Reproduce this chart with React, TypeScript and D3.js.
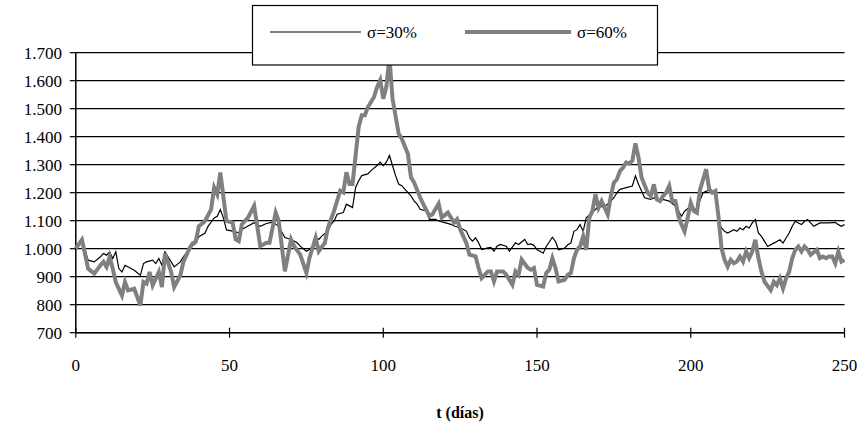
import React from "react";
import * as d3 from "d3";

// σ = 30% series (day, value)
const days30 = [0,2,4,6,8,9,10,11,12,13,14,15,16,18,19,21,22,23,25,26,27,28,29,30,32,34,35,37,39,40,42,43,45,46,47,48,49,51,53,54,56,58,60,62,64,66,68,70,72,73,75,76,77,78,79,80,82,83,84,85,87,88,89,90,91,92,93,95,96,98,99,100,101,102,103,104,105,106,107,109,110,111,112,114,115,117,118,120,122,123,125,127,128,129,130,131,132,134,135,136,137,138,140,141,143,144,146,147,148,149,150,151,152,153,155,156,157,159,160,161,162,163,164,165,166,168,170,172,174,175,176,177,179,181,182,183,184,185,187,188,190,191,193,195,196,197,198,200,201,202,204,206,208,209,210,211,212,214,215,216,217,218,219,220,221,222,223,224,225,227,228,229,230,231,232,233,234,235,236,237,238,239,240,242,243,245,247,248,249,250];
const sigma30 = [1000,1032,959,953,971,983,977,989,965,989,929,917,941,929,923,905,947,953,959,947,965,941,989,971,935,953,971,1002,1019,1043,1055,1080,1110,1116,1140,1110,1067,1063,1057,1069,1081,1093,1080,1090,1095,1080,1040,1033,1021,1009,991,997,1009,1039,1033,1045,1063,1087,1099,1123,1129,1159,1153,1147,1219,1243,1261,1267,1279,1297,1309,1297,1309,1333,1297,1261,1231,1225,1213,1189,1171,1159,1141,1135,1105,1105,1099,1093,1087,1081,1075,1063,1039,1027,1039,1021,997,1003,1005,991,1009,1015,1009,991,1021,1015,1033,1015,1017,1012,996,991,984,1008,1041,1026,996,1002,1014,1020,1062,1068,1086,1062,1110,1130,1150,1150,1170,1182,1200,1212,1218,1224,1260,1230,1206,1182,1176,1182,1170,1176,1170,1152,1134,1116,1134,1152,1134,1146,1200,1210,1200,1098,1074,1062,1056,1068,1062,1074,1068,1080,1074,1092,1104,1056,1044,1026,1008,1020,1026,1032,1020,1038,1056,1080,1098,1092,1086,1098,1104,1092,1080,1092,1092,1092,1094,1086,1080,1086];

// σ = 60% series (day, value)
const days60 = [0,2,4,6,8,9,10,11,12,13,15,16,17,19,21,22,23,24,25,27,28,29,31,32,34,35,37,38,39,40,42,44,45,46,47,49,51,52,53,54,56,58,60,62,63,65,66,68,70,71,73,75,76,78,79,81,82,84,86,87,88,89,90,92,93,94,95,97,98,99,100,101,102,103,105,106,108,109,110,112,113,115,116,118,119,121,123,124,125,127,128,130,131,132,134,135,136,137,139,140,142,143,144,145,147,148,149,150,152,153,154,155,156,157,159,160,161,162,163,164,165,166,167,168,169,170,171,173,174,175,176,177,178,179,180,181,182,183,184,186,187,188,189,190,191,192,193,194,195,196,197,198,199,200,201,202,203,205,206,207,208,209,210,211,212,213,214,215,216,217,218,219,220,221,222,223,224,226,227,228,229,230,231,232,233,234,235,236,237,238,239,241,242,243,244,245,246,247,248,249,250];
const sigma60 = [1000,1032,929,911,941,953,935,971,929,881,833,881,851,857,797,881,875,917,869,917,863,983,917,863,905,953,1002,1019,1025,1080,1098,1140,1218,1194,1272,1099,1093,1033,1027,1087,1111,1153,1009,1021,1021,1129,1099,919,1033,1009,979,913,967,1039,991,1021,1075,1135,1207,1201,1273,1231,1231,1435,1477,1477,1506,1542,1578,1602,1536,1578,1685,1536,1411,1393,1339,1255,1237,1183,1159,1117,1123,1161,1111,1129,1093,1105,1069,1021,979,973,931,895,919,919,883,919,919,907,871,919,907,961,931,925,931,871,865,913,925,966,931,883,889,907,913,966,996,1008,1044,996,1110,1134,1194,1146,1170,1122,1188,1236,1248,1278,1290,1308,1304,1314,1376,1326,1254,1200,1188,1230,1176,1170,1188,1200,1224,1170,1170,1116,1086,1062,1110,1164,1134,1128,1210,1284,1212,1200,1206,1116,1002,960,936,960,948,954,972,954,990,966,990,1032,966,918,882,852,882,870,894,858,894,918,966,996,1008,990,1008,996,978,996,966,972,966,972,972,948,990,954,960];

const yTicks = [700,800,900,1000,1100,1200,1300,1400,1500,1600,1700];
const xTicks = [0,50,100,150,200,250];
const seriesNames = ["σ=30%", "σ=60%"];

const fmt = (v: number) => (v >= 1000 ? `${Math.floor(v / 1000)}.${String(v % 1000).padStart(3, "0")}` : String(v));

export default function App() {
  const W = 863, H = 423;
  const x = d3.scaleLinear().domain([0, 250]).range([75.8, 844.5]);
  const y = d3.scaleLinear().domain([700, 1700]).range([332.7, 52.7]);
  const line = d3.line<[number, number]>().x(d => x(d[0])).y(d => y(d[1]));
  const p30 = line(days30.map((t, i) => [t, sigma30[i]] as [number, number])) || "";
  const p60 = line(days60.map((t, i) => [t, sigma60[i]] as [number, number])) || "";
  const font = '"Liberation Serif", "Tinos", "Noto Serif", "DejaVu Serif", "FreeSerif", "Times New Roman", Times, serif';
  const ts = { fontFamily: font };
  return (
    <svg width={W} height={H} style={{ position: "absolute", left: 0, top: 0, background: "#fff" }}>
      <rect x={0} y={0} width={W} height={H} fill="#fff" />
      {yTicks.map(v => (
        <g key={v}>
          <line x1={x(0)} x2={x(250)} y1={y(v)} y2={y(v)} stroke="#000" strokeWidth={1.2} />
          <line x1={x(0) - 6} x2={x(0)} y1={y(v)} y2={y(v)} stroke="#000" strokeWidth={1.2} />
          <text x={62} y={y(v)} dy="0.35em" textAnchor="end" fontSize={17} style={ts}>{fmt(v)}</text>
        </g>
      ))}
      <line x1={x(0)} x2={x(0)} y1={y(1700)} y2={y(700)} stroke="#000" strokeWidth={1.5} />
      <line x1={x(0)} x2={x(250)} y1={y(700)} y2={y(700)} stroke="#000" strokeWidth={1.5} />
      {xTicks.map(t => (
        <g key={t}>
          <line x1={x(t)} x2={x(t)} y1={y(700) - 5} y2={y(700) + 5} stroke="#000" strokeWidth={1.2} />
          <text x={x(t)} y={365} dy="0.35em" textAnchor="middle" fontSize={17} style={ts}>{t}</text>
        </g>
      ))}
      <path d={p30} fill="none" stroke="#000" strokeWidth={1.2} />
      <path d={p60} fill="none" stroke="#808080" strokeWidth={4} strokeLinejoin="miter" />
      <g>
        <rect x={252.5} y={5.5} width={405} height={59.5} fill="#fff" stroke="#000" strokeWidth={1.2} />
        <line x1={270} x2={361} y1={32} y2={32} stroke="#000" strokeWidth={1.2} />
        <text x={367} y={32} dy="0.35em" fontSize={17} style={ts}>{seriesNames[0]}</text>
        <line x1={465} x2={571} y1={32} y2={32} stroke="#808080" strokeWidth={4} />
        <text x={577} y={32} dy="0.35em" fontSize={17} style={ts}>{seriesNames[1]}</text>
      </g>
      <text x={460} y={412} dy="0.35em" textAnchor="middle" fontSize={16} fontWeight="bold" style={ts}>t (días)</text>
    </svg>
  );
}
